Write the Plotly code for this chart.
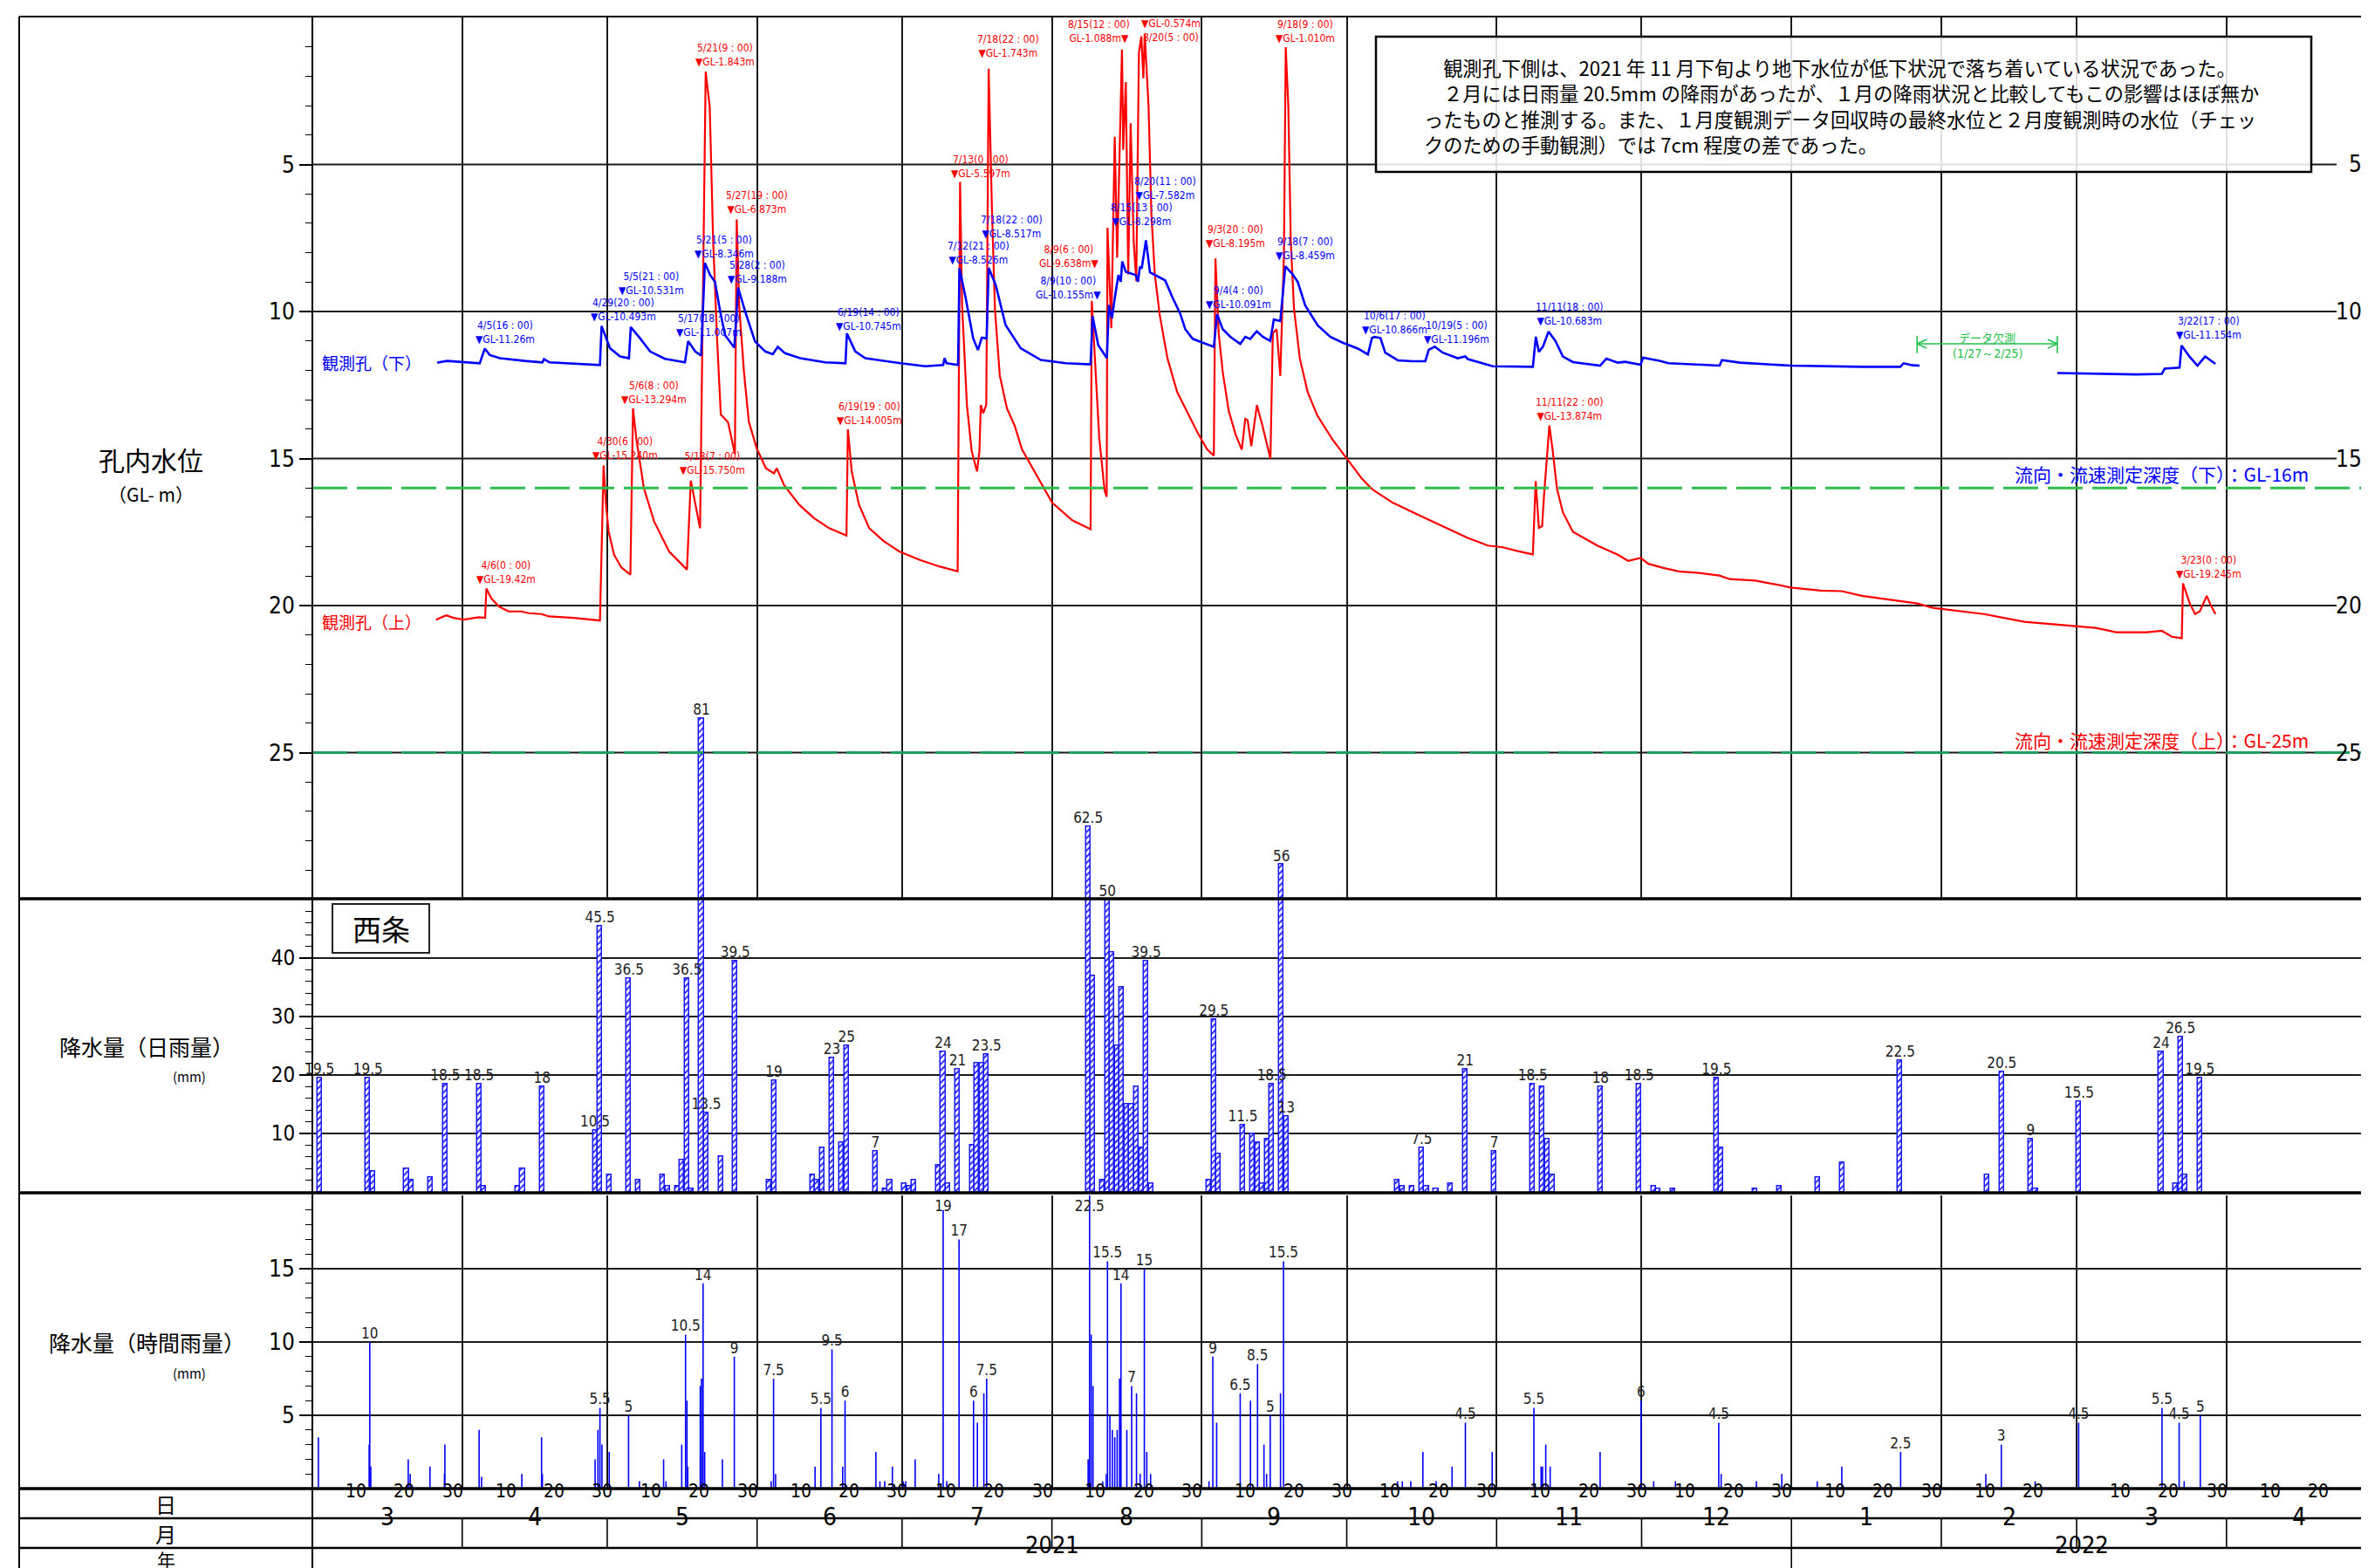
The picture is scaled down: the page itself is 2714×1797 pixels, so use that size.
import pandas as pd
import plotly.graph_objects as go

W, H = 2714, 1797
NARROW = "Liberation Sans Narrow, DejaVu Sans Condensed, Arial Narrow, sans-serif"
GOTHIC = "Noto Sans CJK JP, sans-serif"
BLUE = "#0000ff"
RED = "#ff0000"
GREEN = "#2dbd4e"
GRID = "#1a1a1a"

# ---------------- data ----------------
# lower borehole 観測孔（下）, depth GL- m
lower_well = [
    ("2021-03-26 20:00", 11.74), ("2021-03-28 21:00", 11.68), ("2021-04-04 15:00", 11.76),
    ("2021-04-05 16:00", 11.26), ("2021-04-06 17:00", 11.48), ("2021-04-08 19:00", 11.59),
    ("2021-04-13 23:00", 11.68), ("2021-04-17 14:00", 11.73), ("2021-04-17 22:00", 11.62),
    ("2021-04-19 02:00", 11.73), ("2021-04-29 12:00", 11.82), ("2021-04-29 20:00", 10.493),
    ("2021-05-01 14:00", 11.25), ("2021-05-03 16:00", 11.53), ("2021-05-05 12:00", 11.59),
    ("2021-05-05 21:00", 10.531), ("2021-05-07 19:00", 10.91), ("2021-05-09 21:00", 11.36),
    ("2021-05-12 23:00", 11.61), ("2021-05-17 02:00", 11.73), ("2021-05-17 18:00", 11.007),
    ("2021-05-19 05:00", 11.36), ("2021-05-20 10:00", 11.50), ("2021-05-21 05:00", 8.346),
    ("2021-05-22 07:00", 8.76), ("2021-05-23 07:00", 8.99), ("2021-05-24 09:00", 10.0),
    ("2021-05-25 09:00", 10.8), ("2021-05-27 07:00", 11.23), ("2021-05-28 02:00", 9.188),
    ("2021-05-29 13:00", 10.0), ("2021-05-31 14:00", 11.02), ("2021-06-02 17:00", 11.36),
    ("2021-06-04 06:00", 11.45), ("2021-06-05 07:00", 11.2), ("2021-06-06 19:00", 11.42),
    ("2021-06-09 22:00", 11.59), ("2021-06-15 02:00", 11.73), ("2021-06-19 07:00", 11.76),
    ("2021-06-19 14:00", 10.745), ("2021-06-21 08:00", 11.36), ("2021-06-23 10:00", 11.59),
    ("2021-06-30 17:00", 11.76), ("2021-07-05 20:00", 11.86), ("2021-07-09 12:00", 11.82),
    ("2021-07-09 19:00", 11.59), ("2021-07-10 05:00", 11.76), ("2021-07-12 14:00", 11.82),
    ("2021-07-12 21:00", 8.526), ("2021-07-14 04:00", 9.55), ("2021-07-15 17:00", 10.91),
    ("2021-07-16 17:00", 11.31), ("2021-07-17 12:00", 10.89), ("2021-07-18 12:00", 10.91),
    ("2021-07-18 22:00", 8.517), ("2021-07-20 09:00", 9.1), ("2021-07-22 10:00", 10.46),
    ("2021-07-25 13:00", 11.25), ("2021-07-29 17:00", 11.65), ("2021-08-03 21:00", 11.76),
    ("2021-08-09 00:00", 11.8), ("2021-08-09 10:00", 10.155), ("2021-08-10 14:00", 11.14),
    ("2021-08-12 09:00", 11.59), ("2021-08-12 19:00", 9.78), ("2021-08-13 10:00", 10.23),
    ("2021-08-14 00:00", 9.55), ("2021-08-14 18:00", 8.76), ("2021-08-15 06:00", 8.99),
    ("2021-08-15 13:00", 8.298), ("2021-08-16 07:00", 8.65), ("2021-08-18 09:00", 8.76),
    ("2021-08-18 19:00", 8.99), ("2021-08-19 05:00", 8.48), ("2021-08-19 14:00", 8.53),
    ("2021-08-20 11:00", 7.582), ("2021-08-21 07:00", 8.67), ("2021-08-22 22:00", 8.8),
    ("2021-08-24 10:00", 8.94), ("2021-08-26 00:00", 9.54), ("2021-08-27 13:00", 10.07),
    ("2021-08-28 14:00", 10.6), ("2021-08-30 03:00", 10.93), ("2021-09-01 05:00", 11.06),
    ("2021-09-03 12:00", 11.2), ("2021-09-04 04:00", 10.091), ("2021-09-05 08:00", 10.6),
    ("2021-09-06 22:00", 10.86), ("2021-09-08 23:00", 11.1), ("2021-09-10 00:00", 10.86),
    ("2021-09-11 01:00", 10.93), ("2021-09-12 09:00", 10.67), ("2021-09-13 15:00", 10.86),
    ("2021-09-15 04:00", 11.0), ("2021-09-15 22:00", 10.27), ("2021-09-17 06:00", 10.33),
    ("2021-09-18 07:00", 8.459), ("2021-09-19 20:00", 8.74), ("2021-09-20 21:00", 9.0),
    ("2021-09-22 10:00", 9.8), ("2021-09-25 00:00", 10.47), ("2021-09-27 14:00", 10.86),
    ("2021-09-30 04:00", 11.06), ("2021-10-03 07:00", 11.26), ("2021-10-05 09:00", 11.46),
    ("2021-10-06 05:00", 10.9), ("2021-10-06 17:00", 10.866), ("2021-10-07 23:00", 10.9),
    ("2021-10-08 23:00", 11.4), ("2021-10-11 14:00", 11.66), ("2021-10-14 16:00", 11.69),
    ("2021-10-17 06:00", 11.69), ("2021-10-17 23:00", 11.3), ("2021-10-19 05:00", 11.196),
    ("2021-10-20 21:00", 11.4), ("2021-10-23 23:00", 11.59), ("2021-10-25 13:00", 11.53),
    ("2021-10-26 01:00", 11.62), ("2021-10-28 03:00", 11.72), ("2021-10-31 05:00", 11.86),
    ("2021-11-08 12:00", 11.88), ("2021-11-09 03:00", 10.86), ("2021-11-09 18:00", 11.37),
    ("2021-11-10 14:00", 11.2), ("2021-11-11 18:00", 10.683), ("2021-11-13 04:00", 11.0),
    ("2021-11-14 17:00", 11.53), ("2021-11-16 19:00", 11.72), ("2021-11-22 10:00", 11.84),
    ("2021-11-23 17:00", 11.6), ("2021-11-26 02:00", 11.74), ("2021-11-27 14:00", 11.71),
    ("2021-11-30 19:00", 11.81), ("2021-12-01 07:00", 11.57), ("2021-12-04 12:00", 11.67),
    ("2021-12-06 14:00", 11.76), ("2021-12-17 03:00", 11.84), ("2021-12-17 15:00", 11.65),
    ("2021-12-21 08:00", 11.74), ("2021-12-31 20:00", 11.84), ("2022-01-15 14:00", 11.88),
    ("2022-01-23 12:00", 11.88), ("2022-01-24 05:00", 11.76), ("2022-01-26 02:00", 11.83),
    ("2022-01-27 12:00", 11.84), ("2022-02-10 00:00", None), ("2022-02-25 00:00", 12.09),
    ("2022-03-13 10:00", 12.14), ("2022-03-18 15:00", 12.12), ("2022-03-19 05:00", 11.94),
    ("2022-03-22 07:00", 11.91), ("2022-03-22 17:00", 11.154), ("2022-03-24 10:00", 11.55),
    ("2022-03-26 00:00", 11.84), ("2022-03-27 14:00", 11.53), ("2022-03-29 17:00", 11.78),
]

# upper borehole 観測孔（上）, depth GL- m
upper_well = [
    ("2021-03-26 14:00", 20.48), ("2021-03-28 17:00", 20.33), ("2021-03-30 05:00", 20.42),
    ("2021-04-01 07:00", 20.48), ("2021-04-04 10:00", 20.40), ("2021-04-05 18:00", 20.42),
    ("2021-04-06 00:00", 19.42), ("2021-04-07 00:00", 19.75), ("2021-04-08 14:00", 20.03),
    ("2021-04-10 14:00", 20.20), ("2021-04-13 05:00", 20.20), ("2021-04-14 19:00", 20.26),
    ("2021-04-17 10:00", 20.29), ("2021-04-18 22:00", 20.37), ("2021-04-24 02:00", 20.42),
    ("2021-04-29 12:00", 20.51), ("2021-04-30 06:00", 15.24), ("2021-04-30 18:00", 16.57),
    ("2021-05-01 07:00", 17.48), ("2021-05-02 10:00", 18.27), ("2021-05-03 22:00", 18.70),
    ("2021-05-05 19:00", 18.95), ("2021-05-06 08:00", 13.294), ("2021-05-07 00:00", 14.30),
    ("2021-05-08 14:00", 16.00), ("2021-05-10 17:00", 17.14), ("2021-05-13 19:00", 18.16),
    ("2021-05-17 12:00", 18.78), ("2021-05-18 07:00", 15.75), ("2021-05-19 00:00", 16.35),
    ("2021-05-20 05:00", 17.37), ("2021-05-21 09:00", 1.843), ("2021-05-22 05:00", 3.04),
    ("2021-05-22 22:00", 7.6), ("2021-05-23 18:00", 11.0), ("2021-05-24 12:00", 13.5),
    ("2021-05-26 00:00", 13.77), ("2021-05-27 10:00", 14.85), ("2021-05-27 19:00", 6.873),
    ("2021-05-28 07:00", 9.78), ("2021-05-29 07:00", 12.05), ("2021-05-30 07:00", 13.74),
    ("2021-05-31 22:00", 14.65), ("2021-06-02 20:00", 15.33), ("2021-06-04 12:00", 15.50),
    ("2021-06-05 02:00", 15.33), ("2021-06-06 14:00", 15.90), ("2021-06-09 17:00", 16.57),
    ("2021-06-12 19:00", 17.03), ("2021-06-15 22:00", 17.37), ("2021-06-19 12:00", 17.62),
    ("2021-06-19 19:00", 14.005), ("2021-06-20 14:00", 15.44), ("2021-06-22 02:00", 16.57),
    ("2021-06-24 05:00", 17.37), ("2021-06-27 07:00", 17.82), ("2021-06-30 10:00", 18.16),
    ("2021-07-04 14:00", 18.44), ("2021-07-08 17:00", 18.67), ("2021-07-12 12:00", 18.84),
    ("2021-07-13 00:00", 5.597), ("2021-07-13 10:00", 9.78), ("2021-07-14 10:00", 13.18),
    ("2021-07-15 10:00", 14.76), ("2021-07-16 12:00", 15.44), ("2021-07-17 00:00", 14.76),
    ("2021-07-17 07:00", 13.18), ("2021-07-17 19:00", 13.46), ("2021-07-18 10:00", 13.18),
    ("2021-07-18 22:00", 1.743), ("2021-07-19 14:00", 6.46), ("2021-07-20 05:00", 9.89),
    ("2021-07-21 05:00", 12.17), ("2021-07-22 17:00", 13.30), ("2021-07-24 07:00", 13.88),
    ("2021-07-25 19:00", 14.68), ("2021-07-28 22:00", 15.60), ("2021-08-01 01:00", 16.50),
    ("2021-08-05 05:00", 17.10), ("2021-08-09 00:00", 17.40), ("2021-08-09 06:00", 9.638),
    ("2021-08-10 00:00", 12.04), ("2021-08-10 19:00", 14.30), ("2021-08-11 22:00", 16.10),
    ("2021-08-12 08:00", 16.30), ("2021-08-12 12:00", 7.15), ("2021-08-13 07:00", 10.57),
    ("2021-08-14 00:00", 4.06), ("2021-08-14 12:00", 8.17), ("2021-08-15 12:00", 1.088),
    ("2021-08-15 18:00", 4.5), ("2021-08-16 07:00", 2.2), ("2021-08-16 19:00", 8.74),
    ("2021-08-17 07:00", 3.6), ("2021-08-17 22:00", 7.6), ("2021-08-18 11:00", 8.97),
    ("2021-08-19 00:00", 1.21), ("2021-08-19 12:00", 0.64), ("2021-08-19 22:00", 2.07),
    ("2021-08-20 05:00", 0.574), ("2021-08-21 00:00", 3.04), ("2021-08-21 14:00", 6.70),
    ("2021-08-22 07:00", 8.74), ("2021-08-23 07:00", 10.10), ("2021-08-24 22:00", 11.60),
    ("2021-08-26 22:00", 12.74), ("2021-08-29 00:00", 13.42), ("2021-08-31 02:00", 14.10),
    ("2021-09-02 02:00", 14.68), ("2021-09-03 12:00", 14.90), ("2021-09-03 20:00", 8.195),
    ("2021-09-04 12:00", 10.73), ("2021-09-05 08:00", 12.05), ("2021-09-06 14:00", 13.38),
    ("2021-09-08 00:00", 14.18), ("2021-09-09 07:00", 14.70), ("2021-09-10 00:00", 13.65),
    ("2021-09-10 12:00", 13.70), ("2021-09-11 06:00", 14.58), ("2021-09-12 10:00", 13.18),
    ("2021-09-13 14:00", 13.90), ("2021-09-15 05:00", 15.00), ("2021-09-15 17:00", 10.73),
    ("2021-09-16 12:00", 10.60), ("2021-09-17 06:00", 12.19), ("2021-09-18 00:00", 8.10),
    ("2021-09-18 09:00", 1.010), ("2021-09-18 22:00", 3.04), ("2021-09-19 10:00", 7.60),
    ("2021-09-20 02:00", 9.90), ("2021-09-21 07:00", 11.60), ("2021-09-22 22:00", 12.74),
    ("2021-09-24 22:00", 13.54), ("2021-09-28 00:00", 14.34), ("2021-10-01 02:00", 15.02),
    ("2021-10-04 05:00", 15.70), ("2021-10-06 07:00", 16.05), ("2021-10-10 12:00", 16.50),
    ("2021-10-15 14:00", 16.90), ("2021-10-20 19:00", 17.30), ("2021-10-26 01:00", 17.70),
    ("2021-10-30 05:00", 17.96), ("2021-11-02 07:00", 18.02), ("2021-11-05 10:00", 18.15),
    ("2021-11-08 12:00", 18.26), ("2021-11-09 02:00", 15.77), ("2021-11-09 18:00", 17.36),
    ("2021-11-10 10:00", 17.30), ("2021-11-10 19:00", 16.30), ("2021-11-11 22:00", 13.874),
    ("2021-11-12 14:00", 14.70), ("2021-11-13 12:00", 16.03), ("2021-11-14 17:00", 16.83),
    ("2021-11-16 19:00", 17.49), ("2021-11-21 20:00", 17.96), ("2021-11-26 02:00", 18.27),
    ("2021-11-28 05:00", 18.48), ("2021-11-30 19:00", 18.38), ("2021-12-02 10:00", 18.58),
    ("2021-12-05 12:00", 18.72), ("2021-12-08 17:00", 18.84), ("2021-12-12 22:00", 18.89),
    ("2021-12-17 03:00", 18.98), ("2021-12-19 05:00", 19.10), ("2021-12-24 12:00", 19.15),
    ("2021-12-29 17:00", 19.31), ("2021-12-31 20:00", 19.39), ("2022-01-07 02:00", 19.49),
    ("2022-01-11 10:00", 19.51), ("2022-01-15 14:00", 19.67), ("2022-01-21 22:00", 19.82),
    ("2022-01-27 02:00", 19.93), ("2022-01-30 07:00", 20.08), ("2022-02-04 14:00", 20.19),
    ("2022-02-09 19:00", 20.29), ("2022-02-18 05:00", 20.55), ("2022-02-23 12:00", 20.63),
    ("2022-02-28 19:00", 20.70), ("2022-03-05 00:00", 20.76), ("2022-03-09 05:00", 20.91),
    ("2022-03-15 12:00", 20.91), ("2022-03-18 15:00", 20.86), ("2022-03-20 17:00", 21.06),
    ("2022-03-22 18:00", 21.11), ("2022-03-23 00:00", 19.245), ("2022-03-24 10:00", 19.93),
    ("2022-03-25 12:00", 20.29), ("2022-03-26 12:00", 20.19), ("2022-03-27 22:00", 19.67),
    ("2022-03-28 14:00", 19.93), ("2022-03-29 17:00", 20.29),
]

# daily rainfall (mm)
daily_rain = [
    ("2021-03-02", 19.5), ("2021-03-12", 19.5), ("2021-03-13", 3.5), ("2021-03-20", 4),
    ("2021-03-21", 2), ("2021-03-25", 2.5), ("2021-03-28", 18.5), ("2021-04-04", 18.5),
    ("2021-04-05", 1), ("2021-04-12", 1), ("2021-04-13", 4), ("2021-04-17", 18),
    ("2021-04-28", 10.5), ("2021-04-29", 45.5), ("2021-05-01", 3), ("2021-05-05", 36.5),
    ("2021-05-07", 2), ("2021-05-12", 3), ("2021-05-13", 1), ("2021-05-15", 1),
    ("2021-05-16", 5.5), ("2021-05-17", 36.5), ("2021-05-18", 0.5), ("2021-05-20", 81),
    ("2021-05-21", 13.5), ("2021-05-24", 6), ("2021-05-27", 39.5), ("2021-06-03", 2),
    ("2021-06-04", 19), ("2021-06-12", 3), ("2021-06-13", 2), ("2021-06-14", 7.5),
    ("2021-06-16", 23), ("2021-06-18", 8.5), ("2021-06-19", 25), ("2021-06-25", 7),
    ("2021-06-27", 0.5), ("2021-06-28", 2), ("2021-07-01", 1.5), ("2021-07-02", 1),
    ("2021-07-03", 2), ("2021-07-08", 4.5), ("2021-07-09", 24), ("2021-07-10", 1.5),
    ("2021-07-12", 21), ("2021-07-15", 8), ("2021-07-16", 22), ("2021-07-17", 22),
    ("2021-07-18", 23.5), ("2021-08-08", 62.5), ("2021-08-09", 37), ("2021-08-11", 2),
    ("2021-08-12", 50), ("2021-08-13", 41), ("2021-08-14", 25), ("2021-08-15", 35),
    ("2021-08-16", 15), ("2021-08-17", 15), ("2021-08-18", 18), ("2021-08-19", 7.5),
    ("2021-08-20", 39.5), ("2021-08-21", 1.5), ("2021-09-02", 2), ("2021-09-03", 29.5),
    ("2021-09-04", 6.5), ("2021-09-09", 11.5), ("2021-09-11", 10), ("2021-09-12", 8.5),
    ("2021-09-13", 1.5), ("2021-09-14", 9), ("2021-09-15", 18.5), ("2021-09-17", 56),
    ("2021-09-18", 13), ("2021-10-11", 2), ("2021-10-12", 1), ("2021-10-14", 1),
    ("2021-10-16", 7.5), ("2021-10-17", 1), ("2021-10-19", 0.5), ("2021-10-22", 1.5),
    ("2021-10-25", 21), ("2021-10-31", 7), ("2021-11-08", 18.5), ("2021-11-10", 18),
    ("2021-11-11", 9), ("2021-11-12", 3), ("2021-11-22", 18), ("2021-11-30", 18.5),
    ("2021-12-03", 1), ("2021-12-04", 0.5), ("2021-12-07", 0.5), ("2021-12-16", 19.5),
    ("2021-12-17", 7.5), ("2021-12-24", 0.5), ("2021-12-29", 1), ("2022-01-06", 2.5),
    ("2022-01-11", 5), ("2022-01-23", 22.5), ("2022-02-10", 3), ("2022-02-13", 20.5),
    ("2022-02-19", 9), ("2022-02-20", 0.5), ("2022-03-01", 15.5), ("2022-03-18", 24),
    ("2022-03-21", 1.5), ("2022-03-22", 26.5), ("2022-03-23", 3), ("2022-03-26", 19.5),
]
daily_labeled = [
    "2021-03-02", "2021-03-12", "2021-03-28", "2021-04-04", "2021-04-17", "2021-04-28",
    "2021-04-29", "2021-05-05", "2021-05-17", "2021-05-20", "2021-05-21", "2021-05-27",
    "2021-06-04", "2021-06-16", "2021-06-19", "2021-06-25", "2021-07-09", "2021-07-12",
    "2021-07-18", "2021-08-08", "2021-08-12", "2021-08-20", "2021-09-03", "2021-09-09",
    "2021-09-15", "2021-09-17", "2021-09-18", "2021-10-16", "2021-10-25", "2021-10-31",
    "2021-11-08", "2021-11-22", "2021-11-30", "2021-12-16", "2022-01-23", "2022-02-13",
    "2022-02-19", "2022-03-01", "2022-03-18", "2022-03-22", "2022-03-26",
]

# hourly rainfall (mm)
hourly_rain = [
    ("2021-03-02 06:00", 3.5), ("2021-03-12 18:00", 3.0), ("2021-03-12 21:00", 10.0),
    ("2021-03-13 02:00", 1.5), ("2021-03-20 20:00", 2.0), ("2021-03-21 06:00", 1.0),
    ("2021-03-25 08:00", 1.5), ("2021-03-28 08:00", 1.0), ("2021-03-28 10:00", 3.0),
    ("2021-04-04 12:00", 4.0), ("2021-04-05 00:00", 0.8), ("2021-04-13 08:00", 1.0),
    ("2021-04-17 10:00", 3.5), ("2021-04-17 14:00", 1.0), ("2021-04-28 12:00", 2.0),
    ("2021-04-29 02:00", 4.0), ("2021-04-29 12:00", 5.5), ("2021-04-29 22:00", 3.0),
    ("2021-05-01 10:00", 2.5), ("2021-05-05 10:00", 5.0), ("2021-05-07 16:00", 0.5),
    ("2021-05-12 16:00", 2.0), ("2021-05-13 04:00", 0.5), ("2021-05-16 10:00", 3.0),
    ("2021-05-17 05:00", 10.5), ("2021-05-17 12:00", 6.0), ("2021-05-17 16:00", 1.5),
    ("2021-05-20 06:00", 7.0), ("2021-05-20 12:00", 7.5), ("2021-05-20 20:00", 14.0),
    ("2021-05-21 04:00", 2.5), ("2021-05-24 20:00", 2.0), ("2021-05-27 07:00", 9.0),
    ("2021-06-03 22:00", 0.5), ("2021-06-04 10:00", 7.5), ("2021-06-04 20:00", 1.0),
    ("2021-06-13 00:00", 1.5), ("2021-06-14 05:00", 5.5), ("2021-06-16 12:00", 9.5),
    ("2021-06-18 17:00", 1.5), ("2021-06-19 05:00", 6.0), ("2021-06-25 14:00", 2.5),
    ("2021-06-26 10:00", 0.5), ("2021-06-27 10:00", 0.5), ("2021-06-29 00:00", 1.5),
    ("2021-07-01 06:00", 0.5), ("2021-07-01 18:00", 0.5), ("2021-07-03 17:00", 2.0),
    ("2021-07-08 14:00", 1.0), ("2021-07-09 12:00", 19.0), ("2021-07-10 06:00", 0.5),
    ("2021-07-12 19:00", 17.0), ("2021-07-15 19:00", 6.0), ("2021-07-16 14:00", 4.5),
    ("2021-07-17 22:00", 6.5), ("2021-07-18 12:00", 7.5), ("2021-08-08 12:00", 2.0),
    ("2021-08-08 19:00", 22.5), ("2021-08-09 03:00", 10.5), ("2021-08-09 12:00", 7.0),
    ("2021-08-11 12:00", 0.5), ("2021-08-12 06:00", 1.0), ("2021-08-12 12:00", 15.5),
    ("2021-08-13 00:00", 5.0), ("2021-08-13 12:00", 4.0), ("2021-08-14 00:00", 3.5),
    ("2021-08-14 12:00", 4.0), ("2021-08-15 00:00", 7.5), ("2021-08-15 07:00", 14.0),
    ("2021-08-16 12:00", 4.0), ("2021-08-17 12:00", 7.0), ("2021-08-18 12:00", 6.5),
    ("2021-08-19 06:00", 1.0), ("2021-08-20 03:00", 15.0), ("2021-08-20 15:00", 2.5),
    ("2021-08-21 10:00", 1.0), ("2021-09-02 12:00", 0.5), ("2021-09-03 07:00", 9.0),
    ("2021-09-04 02:00", 4.5), ("2021-09-08 23:00", 6.5), ("2021-09-11 02:00", 6.0),
    ("2021-09-12 13:00", 8.5), ("2021-09-13 21:00", 3.0), ("2021-09-14 10:00", 1.0),
    ("2021-09-15 04:00", 5.0), ("2021-09-17 07:00", 6.5), ("2021-09-17 22:00", 15.5),
    ("2021-10-11 12:00", 0.5), ("2021-10-12 12:00", 0.5), ("2021-10-14 06:00", 0.5),
    ("2021-10-16 18:00", 2.5), ("2021-10-19 12:00", 0.5), ("2021-10-22 19:00", 1.5),
    ("2021-10-25 13:00", 4.5), ("2021-10-31 02:00", 2.5), ("2021-11-08 17:00", 5.5),
    ("2021-11-10 05:00", 1.5), ("2021-11-10 12:00", 1.5), ("2021-11-11 04:00", 3.0),
    ("2021-11-12 02:00", 1.5), ("2021-11-22 10:00", 2.5), ("2021-11-30 21:00", 6.0),
    ("2021-12-03 12:00", 0.5), ("2021-12-08 00:00", 0.5), ("2021-12-16 23:00", 4.5),
    ("2021-12-17 11:00", 1.0), ("2021-12-24 18:00", 0.5), ("2021-12-30 00:00", 1.0),
    ("2022-01-06 08:00", 0.5), ("2022-01-11 10:00", 1.5), ("2022-01-23 14:00", 2.5),
    ("2022-02-10 05:00", 1.0), ("2022-02-13 10:00", 3.0), ("2022-02-20 10:00", 0.5),
    ("2022-03-01 10:00", 4.5), ("2022-03-18 16:00", 5.5), ("2022-03-22 05:00", 4.5),
    ("2022-03-23 06:00", 0.5), ("2022-03-26 14:00", 5.0),
]
hourly_labeled = [
    "2021-03-12 21:00", "2021-04-29 12:00", "2021-05-05 10:00", "2021-05-17 05:00",
    "2021-05-20 20:00", "2021-05-27 07:00", "2021-06-04 10:00", "2021-06-14 05:00",
    "2021-06-16 12:00", "2021-06-19 05:00", "2021-07-09 12:00", "2021-07-12 19:00",
    "2021-07-15 19:00", "2021-07-18 12:00", "2021-08-08 19:00", "2021-08-12 12:00",
    "2021-08-15 07:00", "2021-08-17 12:00", "2021-08-20 03:00", "2021-09-03 07:00",
    "2021-09-08 23:00", "2021-09-12 13:00", "2021-09-15 04:00", "2021-09-17 22:00",
    "2021-10-25 13:00", "2021-11-08 17:00", "2021-11-30 21:00", "2021-12-16 23:00",
    "2022-01-23 14:00", "2022-02-13 10:00", "2022-03-01 10:00", "2022-03-18 16:00",
    "2022-03-22 05:00", "2022-03-26 14:00",
]

# peak labels: time, depth text, well, text offset (px), layout
# layout: v = "▼GL" under time, r = "GL..▼" under time, t = "▼GL" above time
peak_labels = [
    ("2021-04-05 16:00", "11.26", "L", 23, 18, "v"), ("2021-04-29 20:00", "10.493", "L", 25, 19, "v"),
    ("2021-05-05 21:00", "10.531", "L", 24, 50, "v"), ("2021-05-17 18:00", "11.007", "L", 24, 18, "v"),
    ("2021-05-21 05:00", "8.346", "L", 22, 18, "v"), ("2021-05-28 02:00", "9.188", "L", 22, 18, "v"),
    ("2021-06-19 14:00", "10.745", "L", 25, 16, "v"), ("2021-07-12 21:00", "8.526", "L", 22, 17, "v"),
    ("2021-07-18 22:00", "8.517", "L", 26, 47, "v"), ("2021-08-09 10:00", "10.155", "L", -28, 32, "r"),
    ("2021-08-15 13:00", "8.298", "L", 22, 54, "v"), ("2021-08-20 11:00", "7.582", "L", 22, 60, "v"),
    ("2021-09-04 04:00", "10.091", "L", 25, 19, "v"), ("2021-09-18 07:00", "8.459", "L", 23, 20, "v"),
    ("2021-10-06 17:00", "10.866", "L", 23, 16, "v"), ("2021-10-19 05:00", "11.196", "L", 25, 16, "v"),
    ("2021-11-11 18:00", "10.683", "L", 24, 20, "v"), ("2022-03-22 17:00", "11.154", "L", 31, 20, "v"),
    ("2021-04-06 00:00", "19.42", "U", 23, 18, "v"), ("2021-04-30 06:00", "15.240", "U", 25, 20, "v"),
    ("2021-05-06 08:00", "13.294", "U", 24, 18, "v"), ("2021-05-18 07:00", "15.750", "U", 25, 20, "v"),
    ("2021-05-21 09:00", "1.843", "U", 22, 19, "v"), ("2021-05-27 19:00", "6.873", "U", 23, 20, "v"),
    ("2021-06-19 19:00", "14.005", "U", 25, 18, "v"), ("2021-07-13 00:00", "5.597", "U", 24, 18, "v"),
    ("2021-07-18 22:00", "1.743", "U", 22, 26, "v"), ("2021-08-09 06:00", "9.638", "U", -26, 51, "r"),
    ("2021-08-15 12:00", "1.088", "U", -26, 21, "r"), ("2021-08-20 05:00", "0.574", "U", 30, 4, "t"),
    ("2021-09-03 20:00", "8.195", "U", 23, 25, "v"), ("2021-09-18 09:00", "1.010", "U", 22, 18, "v"),
    ("2021-11-11 22:00", "13.874", "U", 23, 19, "v"), ("2022-03-23 00:00", "19.245", "U", 30, 19, "v"),
]

depth_ticks = [5, 10, 15, 20, 25]
daily_ticks = [10, 20, 30, 40]
hourly_ticks = [5, 10, 15]
flow_depth_lower = 16
flow_depth_upper = 25
gap_start, gap_end = "2022-01-27", "2022-02-25"

note_lines = [
    "　観測孔下側は、2021 年 11 月下旬より地下水位が低下状況で落ち着いている状況であった。",
    "　２月には日雨量 20.5mm の降雨があったが、１月の降雨状況と比較してもこの影響はほぼ無か",
    "ったものと推測する。また、１月度観測データ回収時の最終水位と２月度観測時の水位（チェッ",
    "クのための手動観測）では 7cm 程度の差であった。",
]


# ---------------- helpers ----------------
def px(x):
    return x / W


def py(y):
    return 1 - y / H


X0, X1 = 350, 2710
DAILY_BASE, DAILY_PPU = 1358, 6.7
DAILY_TOP_VAL = 98
AXIS_END = pd.Timestamp("2022-05-01")

fig = go.Figure()

# water levels
ut = [t for t, _ in upper_well]
uv = [v for _, v in upper_well]
lt = [t for t, _ in lower_well]
lv = [v for _, v in lower_well]
fig.add_trace(go.Scatter(x=ut, y=uv, mode="lines", line=dict(color=RED, width=2.2),
                         xaxis="x", yaxis="y", hoverinfo="skip"))
fig.add_trace(go.Scatter(x=lt, y=lv, mode="lines", line=dict(color=BLUE, width=2.6),
                         connectgaps=False, xaxis="x", yaxis="y", hoverinfo="skip"))

# daily rain bars
day_x = pd.to_datetime([d for d, _ in daily_rain]) + pd.Timedelta(hours=12)
day_v = [v for _, v in daily_rain]
fig.add_trace(go.Bar(
    x=day_x, y=day_v, width=0.92 * 86400000, xaxis="x2", yaxis="y2", hoverinfo="skip",
    marker=dict(color="white", line=dict(color="#1a1aff", width=1.5),
                pattern=dict(shape="/", fgcolor="#1a1aff", bgcolor="white", size=5, solidity=0.35)),
))
lab = [(pd.Timestamp(d) + pd.Timedelta(hours=12), v) for d, v in daily_rain if d in daily_labeled]
fig.add_trace(go.Scatter(
    x=[a for a, _ in lab], y=[b for _, b in lab], mode="text", text=[f"{b:g}" for _, b in lab],
    textposition="top center", textfont=dict(family=NARROW, size=17, color="#222"),
    cliponaxis=False, xaxis="x2", yaxis="y2", hoverinfo="skip",
))

# hourly rain spikes
hx, hy = [], []
for t, v in hourly_rain:
    hx += [t, t, None]
    hy += [0, v, None]
fig.add_trace(go.Scatter(x=hx, y=hy, mode="lines", line=dict(color=BLUE, width=1.6),
                         xaxis="x3", yaxis="y3", hoverinfo="skip"))
hl = [(t, v) for t, v in hourly_rain if t in hourly_labeled]
fig.add_trace(go.Scatter(
    x=[a for a, _ in hl], y=[min(b, 18.7) for _, b in hl], mode="text", text=[f"{b:g}" for _, b in hl],
    textposition="top center", textfont=dict(family=NARROW, size=17, color="#222"),
    cliponaxis=False, xaxis="x3", yaxis="y3", hoverinfo="skip",
))

# ---------------- axes ----------------
xcommon = dict(type="date", range=["2021-03-01", "2022-05-01"], domain=[px(X0), px(X1)],
               showticklabels=False, zeroline=False, ticks="", showline=False)
month_grid = dict(showgrid=True, gridcolor=GRID, gridwidth=1.6, tickmode="linear",
                  tick0="2021-03-01", dtick="M1")
tickfont = dict(family=NARROW, size=26, color="black")


def yax(domain, rng, major, minor_vals, anchor, grid):
    return dict(domain=domain, range=rng, anchor=anchor, tickmode="array", tickvals=major,
                ticks="outside", ticklen=14, tickwidth=1.5, tickcolor="black",
                showgrid=grid, gridcolor=GRID, gridwidth=2, zeroline=False, showline=False,
                tickfont=tickfont,
                minor=dict(tickmode="array", tickvals=minor_vals, ticks="outside", ticklen=7,
                           tickwidth=1.3, tickcolor="black", showgrid=False))


fig.update_layout(
    xaxis=dict(**xcommon, anchor="y", **month_grid),
    xaxis2=dict(**xcommon, anchor="y2", showgrid=False),
    xaxis3=dict(**xcommon, anchor="y3", **month_grid),
    yaxis=yax([py(1023), py(12)], [30, 0], depth_ticks,
              [i for i in range(1, 30) if i % 5], "x", False),
    yaxis2=yax([py(DAILY_BASE), py(DAILY_BASE - DAILY_TOP_VAL * DAILY_PPU)], [0, DAILY_TOP_VAL],
               daily_ticks, [i for i in range(2, 50, 2) if i % 10], "x2", True),
    yaxis3=yax([py(1698), py(1362)], [0, 20], hourly_ticks,
               [i for i in range(1, 20) if i % 5], "x3", True),
)
fig.update_layout(yaxis2_tickfont_size=24)

# ---------------- shapes ----------------
shapes = []


def pline(x0, y0, x1, y1, w=2, color="black", dash=None):
    shapes.append(dict(type="line", xref="paper", yref="paper", x0=px(x0), y0=py(y0),
                       x1=px(x1), y1=py(y1), layer="above",
                       line=dict(color=color, width=w, dash=dash)))


for v in depth_ticks:
    shapes.append(dict(type="line", xref="paper", yref="y", x0=px(X0), x1=px(2670), y0=v, y1=v,
                       layer="below", line=dict(color=GRID, width=2)))
shapes.append(dict(type="line", xref="paper", yref="y", x0=px(X0), x1=px(X1),
                   y0=flow_depth_lower, y1=flow_depth_lower, layer="above",
                   line=dict(color=GREEN, width=3, dash="40px,11px")))
shapes.append(dict(type="line", xref="paper", yref="y", x0=px(X0), x1=px(X1),
                   y0=flow_depth_upper, y1=flow_depth_upper, layer="above",
                   line=dict(color="#1f9f5f", width=3, dash="40px,11px")))

# frame
pline(14, 11, X1, 11, 2)
pline(14, 11, 14, H, 2)
pline(X1, 11, X1, H, 2)
pline(X0, 11, X0, H, 2)
for yy, w in [(1022, 3.5), (1359, 3.5), (1698, 3.5), (1732, 2.5), (1766, 2.5)]:
    pline(14, yy, X1, yy, w)

months = pd.date_range("2021-03-01", "2022-04-01", freq="MS")
for m in months[1:]:
    shapes.append(dict(type="line", xref="x", yref="paper", x0=m.strftime("%Y-%m-%d"),
                       x1=m.strftime("%Y-%m-%d"), y0=py(1732), y1=py(1766), layer="above",
                       line=dict(color="black", width=1.6)))
shapes.append(dict(type="line", xref="x", yref="paper", x0="2022-01-01", x1="2022-01-01",
                   y0=py(1766), y1=py(H), layer="above", line=dict(color="black", width=1.6)))

# note box and station box
shapes.append(dict(type="rect", xref="paper", yref="paper", x0=px(1569), x1=px(2641),
                   y0=py(189), y1=py(34), layer="above", fillcolor="rgba(255,255,255,0.86)",
                   line=dict(color="black", width=2.5)))
shapes.append(dict(type="rect", xref="paper", yref="paper", x0=px(373), x1=px(484),
                   y0=py(1084), y1=py(1028), layer="above", fillcolor="white",
                   line=dict(color="#222", width=2)))

# data gap arrow
gs, ge = pd.Timestamp(gap_start), pd.Timestamp(gap_end)
arm = pd.Timedelta(days=2)
for a, b, y0, y1 in [(gs, ge, 11.1, 11.1), (gs, gs, 10.83, 11.42), (ge, ge, 10.83, 11.42),
                     (gs, gs + arm, 11.1, 10.95), (gs, gs + arm, 11.1, 11.25),
                     (ge, ge - arm, 11.1, 10.95), (ge, ge - arm, 11.1, 11.25)]:
    shapes.append(dict(type="line", xref="x", yref="y", x0=a.strftime("%Y-%m-%d %H:%M"),
                       x1=b.strftime("%Y-%m-%d %H:%M"), y0=y0, y1=y1, layer="above",
                       line=dict(color="#22c04a", width=1.6)))

# ---------------- annotations ----------------
ann = []


def ptext(x, y, text, size, color="black", family=GOTHIC, xanchor="center"):
    ann.append(dict(x=px(x), y=py(y), xref="paper", yref="paper", text=text, showarrow=False,
                    xanchor=xanchor, yanchor="middle", font=dict(family=family, size=size, color=color)))


ptext(165, 518, "孔内水位", 30)
ptext(165, 558, "（GL- m）", 21)
ptext(160, 1191, "降水量（日雨量）", 25)
ptext(209, 1225, "(mm)", 15)
ptext(160, 1530, "降水量（時間雨量）", 25)
ptext(209, 1565, "(mm)", 15)
ptext(182, 1715, "日", 24)
ptext(182, 1749, "月", 24)
ptext(182, 1779, "年", 21)
ptext(429, 1056, "西条", 33)

for i, line in enumerate(note_lines):
    ptext(1622, 69 + i * 29.4, line, 22.2, family="Noto Sans CJK JP", xanchor="left")

# right-side depth labels
for v in depth_ticks:
    ann.append(dict(x=px(2701), y=v, xref="paper", yref="y", text=str(v), showarrow=False,
                    xanchor="right", yanchor="middle", font=tickfont))

# well names and measurement depth captions
for txt, yv, col in [("観測孔（下）", 11.75, BLUE), ("観測孔（上）", 20.56, RED)]:
    ann.append(dict(x=px(359), y=yv, xref="paper", yref="y", text=txt, showarrow=False,
                    xanchor="left", yanchor="middle", font=dict(family=GOTHIC, size=19, color=col)))
for txt, yv, col in [(f"流向・流速測定深度（下）：GL-{flow_depth_lower}m", 15.52, BLUE),
                     (f"流向・流速測定深度（上）：GL-{flow_depth_upper}m", 24.58, RED)]:
    ann.append(dict(x=px(2640), y=yv, xref="paper", yref="y", text=txt, showarrow=False,
                    xanchor="right", yanchor="middle", font=dict(family=GOTHIC, size=21, color=col)))

gmid = (gs + (ge - gs) / 2).strftime("%Y-%m-%d %H:%M")
ann.append(dict(x=gmid, y=10.88, xref="x", yref="y", text="データ欠測", showarrow=False,
                font=dict(family=GOTHIC, size=13, color="#22c04a")))
ann.append(dict(x=gmid, y=11.42, xref="x", yref="y",
                text=f"({gs.month}/{gs.day}～{ge.month}/{ge.day})", showarrow=False,
                font=dict(family=NARROW, size=14, color="#22c04a")))

# peak labels
for t, dtxt, well, dx, dy, style in peak_labels:
    ts = pd.Timestamp(t)
    when = f"{ts.month}/{ts.day}({ts.hour} : 00)"
    if style == "v":
        text = f"{when}<br>▼GL-{dtxt}m"
    elif style == "r":
        text = f"{when}<br>GL-{dtxt}m▼"
    else:
        text = f"▼GL-{dtxt}m<br>{when}"
    ann.append(dict(x=t, y=float(dtxt), xref="x", yref="y", text=text, showarrow=False,
                    xshift=dx, yshift=dy, xanchor="center", yanchor="middle", align="center",
                    font=dict(family=NARROW, size=12, color=BLUE if well == "L" else RED)))

# calendar rows
for m in months:
    dim = m.days_in_month
    for d in (10, 20, 30):
        day = m + pd.Timedelta(days=d - 1)
        if d <= dim and day < AXIS_END - pd.Timedelta(days=3):
            ann.append(dict(x=day.strftime("%Y-%m-%d"), y=py(1715),
                            xref="x", yref="paper", text=str(d), showarrow=False,
                            font=dict(family=NARROW, size=21, color="black")))
    ann.append(dict(x=(m + pd.Timedelta(days=dim / 2)).strftime("%Y-%m-%d %H:%M"), y=py(1749),
                    xref="x", yref="paper", text=str(m.month), showarrow=False,
                    font=dict(family=NARROW, size=28, color="black")))
for a, b, label in [("2021-03-01", "2022-01-01", "2021"), ("2022-01-01", "2022-05-01", "2022")]:
    mid = pd.Timestamp(a) + (pd.Timestamp(b) - pd.Timestamp(a)) / 2
    ann.append(dict(x=mid.strftime("%Y-%m-%d %H:%M"), y=py(1780), xref="x", yref="paper",
                    text=label, showarrow=False, font=dict(family=NARROW, size=27, color="black")))

fig.update_layout(
    width=W, height=H, margin=dict(l=0, r=0, t=0, b=0), template="none",
    paper_bgcolor="#ffffff", plot_bgcolor="rgba(0,0,0,0)", showlegend=False,
    shapes=shapes, annotations=ann, bargap=0,
)

fig.write_html("out.html")
